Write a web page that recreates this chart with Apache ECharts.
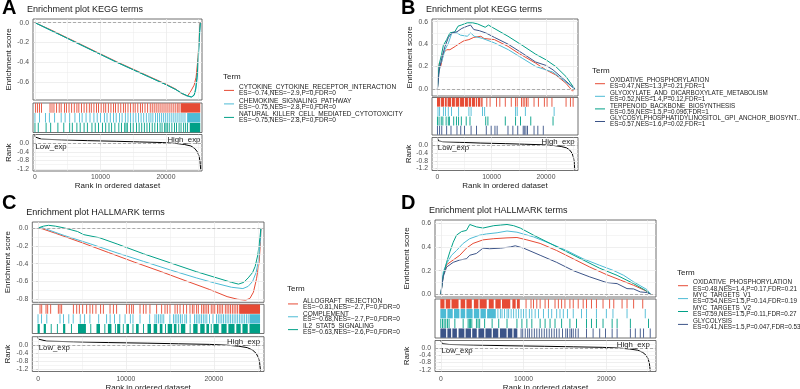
<!DOCTYPE html>
<html>
<head>
<meta charset="utf-8">
<script src="https://cdn.jsdelivr.net/npm/echarts@6/dist/echarts.min.js"></script>
<style>
  html, body { margin: 0; padding: 0; background: #fff; }
  #chart { width: 800px; height: 389px; }
</style>
</head>
<body>
<div id="chart"></div>
<script>
const chart = echarts.init(document.getElementById('chart'))
const FONT = '"Liberation Sans", Arial, sans-serif'

// npg palette
const red = '#E64B35'
const cyan = '#4DBBD5'
const teal = '#00A087'
const navy = '#3C5488'

// shared axis values
const xTicks = [0, 10000, 20000]
const xMinor = [5000, 15000, 25000]
const rankTicks = [0, -0.4, -0.8, -1.2]
const rankMinor = [0.2, -0.2, -0.6, -1.0]

// ranked list metric (same dataset in every panel)
const rankCurve = [[0, 0.4], [50, 0.3], [200, 0.24], [1000, 0.2], [4000, 0.17], [8000, 0.13], [12500, 0.1],
  [16000, 0.07], [19500, 0.04], [21500, 0.0], [22800, -0.05], [23800, -0.12], [24400, -0.24], [24800, -0.4],
  [25050, -0.6], [25200, -0.85], [25300, -1.25]]

// ---- A: KEGG (negative) ----
const termsA = ['CYTOKINE_CYTOKINE_RECEPTOR_INTERACTION', 'CHEMOKINE_SIGNALING_PATHWAY', 'NATURAL_KILLER_CELL_MEDIATED_CYTOTOXICITY']
const statsA = ['ES=−0.74,NES=−2.9,P=0,FDR=0', 'ES=−0.75,NES=−2.8,P=0,FDR=0', 'ES=−0.75,NES=−2.8,P=0,FDR=0']
const esA1 = [[0, 0], [2500, -0.075], [5000, -0.155], [7500, -0.235], [10000, -0.315], [12500, -0.395], [15000, -0.47],
  [17500, -0.545], [20000, -0.62], [21500, -0.67], [22300, -0.712], [23300, -0.74], [23800, -0.69], [24300, -0.63],
  [24600, -0.55], [24900, -0.35], [25100, -0.1], [25200, 0]]
const esA2 = [[0, 0], [2500, -0.08], [5000, -0.16], [7500, -0.24], [10000, -0.32], [12500, -0.4], [15000, -0.475],
  [17500, -0.55], [20000, -0.625], [21500, -0.675], [22500, -0.715], [23200, -0.74], [23800, -0.75], [24200, -0.74],
  [24500, -0.7], [24800, -0.55], [25000, -0.3], [25150, -0.1], [25250, 0]]
const esA3 = [[0, 0], [2500, -0.08], [5000, -0.16], [7500, -0.24], [10000, -0.32], [12500, -0.4], [15000, -0.475],
  [17500, -0.55], [20000, -0.625], [21500, -0.675], [22500, -0.715], [23200, -0.735], [23900, -0.75], [24300, -0.73],
  [24550, -0.66], [24800, -0.5], [25000, -0.25], [25150, -0.08], [25250, 0]]
const rugA1 = [100, 400, 700, 1000, 2300, 2600, 2900, 3300, 3700, 4000, 4500, 4800, 5200, 5600, 6000, 6400, 6700, 7100,
  7500, 7900, 8300, 8600, 9000, 9400, 9700, 10100, 10500, 10800, 11200, 11600, 12000, 12300, 12700, 13100, 13500, 13800,
  14200, 14600, 15000, 15300, 15700, 16100, 16400, 16800, 17200, 17600, 17900, 18200, 18500, 18800, 19100, 19400, 19700,
  20000, 20300, 20600, 20900, 21200, 21500, 21800, 22000]
const blockA1 = [[22300, 25300]]
const rugA2 = [0, 700, 1600, 2200, 3000, 4000, 4600, 5300, 6100, 6800, 7200, 7800, 8400, 9000, 9500, 10000, 10600, 11000,
  11500, 12000, 12400, 12900, 13300, 13800, 14200, 14600, 15000, 15400, 15800, 16200, 16600, 17000, 17400, 17700, 18000,
  18400, 18700, 19000, 19300, 19600, 19900, 20200, 20500, 20800, 21100, 21400, 21700, 22000, 22300, 22600, 22900]
const blockA2 = [[23300, 25300]]
const rugA3 = [0, 500, 1700, 2400, 3500, 4400, 5300, 5700, 6400, 6900, 7500, 8000, 8700, 9200, 9700, 10300, 10800, 11300,
  11700, 12200, 12800, 13200, 13700, 13900, 14100, 14600, 15000, 15500, 15900, 16300, 16700, 17100, 17500, 17900, 18300,
  18700, 19100, 19400, 19800, 20000, 20200, 20500, 20900, 21300, 21600, 22000, 22300, 22700, 23000, 23300]
const blockA3 = [[23700, 25300]]

// ---- B: KEGG (positive) ----
const termsB = ['OXIDATIVE_PHOSPHORYLATION', 'GLYOXYLATE_AND_DICARBOXYLATE_METABOLISM', 'TERPENOID_BACKBONE_BIOSYNTHESIS', 'GLYCOSYLPHOSPHATIDYLINOSITOL_GPI_ANCHOR_BIOSYNT...']
const statsB = ['ES=0.47,NES=1.3,P=0.21,FDR=1', 'ES=0.52,NES=1.4,P=0.12,FDR=1', 'ES=0.59,NES=1.5,P=0.096,FDR=1', 'ES=0.57,NES=1.6,P=0.02,FDR=1']
const esB1 = [[0, 0], [350, 0.23], [600, 0.2], [1100, 0.32], [1700, 0.35], [2300, 0.35], [3300, 0.38], [4200, 0.41],
  [4900, 0.43], [5800, 0.44], [6700, 0.46], [8000, 0.47], [8600, 0.45], [10500, 0.44], [13000, 0.38], [14900, 0.32],
  [18100, 0.23], [20000, 0.17], [21800, 0.125], [23700, 0.05], [24300, 0.015], [24900, -0.02], [25100, -0.03], [25300, 0]]
const esB2 = [[0, 0], [330, 0.21], [770, 0.24], [1400, 0.35], [2030, 0.41], [2660, 0.5], [3610, 0.5], [4240, 0.48],
  [5500, 0.47], [6130, 0.5], [6760, 0.47], [8340, 0.45], [10550, 0.41], [13070, 0.35], [15600, 0.275], [18120, 0.2],
  [18440, 0.185], [21280, 0.15], [23170, 0.08], [25300, 0]]
const esB3 = [[0, 0], [330, 0.22], [770, 0.31], [1100, 0.39], [1700, 0.44], [2300, 0.5], [3200, 0.51], [3800, 0.56],
  [4400, 0.57], [5500, 0.59], [6500, 0.59], [7400, 0.58], [8800, 0.55], [9400, 0.57], [10100, 0.55], [13000, 0.47],
  [15600, 0.39], [18100, 0.31], [20000, 0.26], [21800, 0.2], [23700, 0.11], [25300, 0]]
const esB4 = [[0, 0], [330, 0.16], [770, 0.27], [1400, 0.38], [2030, 0.46], [2660, 0.5], [3600, 0.51], [4500, 0.54],
  [5500, 0.56], [6100, 0.57], [6700, 0.53], [7700, 0.52], [8900, 0.5], [10500, 0.46], [13000, 0.4], [15600, 0.32],
  [18100, 0.24], [20000, 0.21], [21300, 0.17], [23200, 0.09], [25300, 0]]
const rugB1 = [9100, 9700, 10900, 11500, 12500, 13600, 14400, 14700, 15500, 15800, 16100, 16400, 16700, 17800, 18600,
  19700, 20200, 21100, 23700, 24500, 25000]
const blockB1 = [[0, 600], [750, 1300], [1450, 1800], [1950, 2600], [2750, 3300], [3450, 4100], [4250, 5000], [5150, 5700],
  [5850, 6300], [6450, 7000], [7150, 7400], [7550, 8000], [8150, 8400]]
const rugB2 = [100, 400, 1100, 1500, 2000, 2600, 3900, 5800, 6200, 8300, 8700, 14400, 14700, 16200, 21500]
const rugB3 = [0, 300, 700, 1000, 1600, 2000, 2200, 3000, 3500, 3900, 4400, 5300, 6000, 8900, 9300, 12500, 14400, 15300,
  17200, 21300]
const rugB4 = [0, 400, 800, 1700, 2500, 3600, 4300, 5000, 6200, 7200, 9000, 9900, 10600, 11000, 13000, 13900, 14800,
  15800, 16000, 16300, 16600, 17800, 18500, 19500]

// ---- C: HALLMARK (negative) ----
const termsC = ['ALLOGRAFT_REJECTION', 'COMPLEMENT', 'IL2_STAT5_SIGNALING']
const statsC = ['ES=−0.81,NES=−2.7,P=0,FDR=0', 'ES=−0.68,NES=−2.7,P=0,FDR=0', 'ES=−0.63,NES=−2.6,P=0,FDR=0']
const esC1 = [[0, 0], [500, -0.01], [2000, -0.06], [5000, -0.165], [8000, -0.275], [11000, -0.385], [14000, -0.49],
  [17000, -0.6], [19500, -0.69], [21500, -0.77], [22700, -0.8], [23600, -0.81], [24100, -0.79], [24500, -0.72],
  [24850, -0.57], [25150, -0.38], [25300, -0.15], [25350, 0]]
const esC2 = [[0, 0], [400, 0.005], [1000, -0.015], [3000, -0.085], [6000, -0.18], [9000, -0.28], [12000, -0.375],
  [15000, -0.47], [18000, -0.56], [20000, -0.615], [22000, -0.665], [23300, -0.68], [23900, -0.655], [24400, -0.6],
  [24800, -0.5], [25100, -0.35], [25300, -0.12], [25350, 0]]
const esC3 = [[0, 0], [600, 0.02], [1200, 0.03], [2000, 0.02], [3000, 0.0], [4500, -0.04], [5200, -0.075], [7000, -0.11],
  [9000, -0.18], [12000, -0.29], [15000, -0.39], [18000, -0.49], [20000, -0.55], [22000, -0.61], [22800, -0.63],
  [23400, -0.61], [23900, -0.56], [24400, -0.5], [24700, -0.43], [25000, -0.3], [25250, -0.1], [25350, 0]]
const rugC1 = [230, 420, 910, 1100, 1440, 2310, 2500, 2690, 4020, 4400, 4700, 5080, 5530, 5910, 6220, 6590, 7120, 7430,
  8190, 8570, 8940, 10080, 10380, 10650, 10840, 11600, 11980, 12280, 12730, 13490, 14060, 14440, 14700, 15010, 15580,
  15840, 16150, 16530, 16900, 17280, 17550, 17740, 18040, 18230, 18610, 18800, 18990, 19200, 19400, 19700, 19900, 20100,
  20400, 20600, 20800, 21000, 21300, 21500, 21700, 21900, 22100, 22300, 22500, 22700, 22900]
const blockC1 = [[23000, 25300]]
const rugC2 = [0, 400, 1000, 2500, 2900, 3500, 4000, 4800, 5300, 5900, 6900, 7800, 8200, 8700, 9300, 9900, 10500, 10800,
  11600, 12700, 13300, 13500, 13700, 13900, 14100, 14300, 15000, 15400, 15600, 15800, 16000, 16200, 16400, 16700, 16900,
  17300, 17800, 18000, 18200, 18400, 18600, 18800, 19000, 19200, 19500, 19900, 20300, 20500, 20700, 20900, 21100, 21300,
  21500, 21700, 21900, 22100, 22300, 22500, 22700, 22900, 23100, 23300, 23500, 23700, 23900]
const blockC2 = [[24100, 25300]]
const rugC3 = [1500, 2200, 3800, 6000, 7600, 8800, 9700, 10800, 12000, 14500, 16000, 17300, 19700]
const blockC3 = [[0, 250], [700, 950], [2900, 3150], [4600, 5500], [6700, 7100], [8000, 8400], [9050, 9400], [10100, 10400],
  [11200, 11500], [12500, 12900], [13200, 13600], [13900, 14200], [14800, 15300], [15500, 15800], [16300, 16800],
  [17700, 18200], [18500, 19000], [19200, 19500], [20000, 20600], [20900, 21500], [21700, 22400], [22600, 23100],
  [23300, 23900], [24100, 25300]]

// ---- D: HALLMARK (positive) ----
const termsD = ['OXIDATIVE_PHOSPHORYLATION', 'MYC_TARGETS_V1', 'MYC_TARGETS_V2', 'GLYCOLYSIS']
const statsD = ['ES=0.48,NES=1.4,P=0.17,FDR=0.21', 'ES=0.54,NES=1.5,P=0.14,FDR=0.19', 'ES=0.59,NES=1.5,P=0.11,FDR=0.27', 'ES=0.41,NES=1.5,P=0.047,FDR=0.53']
const esD1 = [[0, 0], [300, 0.16], [700, 0.25], [1500, 0.29], [2300, 0.33], [3100, 0.39], [3900, 0.43], [5100, 0.46],
  [6400, 0.47], [8000, 0.477], [9200, 0.48], [10400, 0.46], [12000, 0.43], [14000, 0.37], [16000, 0.3], [18000, 0.23],
  [20000, 0.167], [21700, 0.12], [23300, 0.076], [24900, 0.025], [25350, 0]]
const esD2 = [[0, 0], [300, 0.19], [700, 0.26], [1300, 0.33], [1900, 0.37], [2700, 0.43], [3500, 0.47], [4700, 0.5],
  [5500, 0.51], [6800, 0.52], [8000, 0.535], [9200, 0.525], [11200, 0.485], [13200, 0.43], [15200, 0.37], [17200, 0.3],
  [19200, 0.245], [20900, 0.2], [22100, 0.16], [23300, 0.105], [24900, 0.04], [25350, 0]]
const esD3 = [[0, 0], [300, 0.16], [700, 0.27], [1100, 0.36], [1500, 0.44], [1900, 0.5], [2500, 0.53], [3100, 0.54],
  [3500, 0.59], [4300, 0.57], [5100, 0.56], [6400, 0.58], [7200, 0.585], [8000, 0.59], [8800, 0.58], [9600, 0.56],
  [11200, 0.5], [13200, 0.43], [15200, 0.36], [17200, 0.29], [19200, 0.22], [21300, 0.16], [23300, 0.09], [24700, 0.034],
  [25350, 0]]
const esD4 = [[0, 0], [300, 0.15], [700, 0.23], [1500, 0.27], [2300, 0.29], [3100, 0.3], [3500, 0.33], [4300, 0.345],
  [5100, 0.39], [5900, 0.385], [7200, 0.39], [8400, 0.4], [9000, 0.41], [10000, 0.39], [12000, 0.33], [14000, 0.27],
  [16000, 0.2], [18000, 0.147], [20000, 0.1], [21300, 0.09], [22500, 0.048], [23300, 0.045], [24100, 0.02],
  [24900, 0.015], [25350, 0]]
const rugD1 = [10300, 10900, 11200, 11600, 12000, 12600, 13000, 13800, 14200, 14600, 15000, 15600, 16000, 16600, 17200,
  17600, 18200, 18800, 19600, 20400, 20900, 21900, 22500, 23300, 24400]
const blockD1 = [[0, 500], [650, 1200], [1350, 2200], [2450, 3000], [3150, 3800], [4050, 4600], [4750, 5600], [5850, 6450],
  [6650, 7300], [7450, 8450], [8700, 9100], [9250, 9600]]
const rugD2 = [6900, 7200, 7400, 7700, 8000, 8200, 8500, 8800, 9100, 9400, 9700, 10000, 10300, 10700, 11000, 11400, 11800,
  12400, 13000, 13400, 14000, 14400, 14800, 15300, 16000, 17000, 17600, 18800, 20000, 20800, 22500, 24700]
const blockD2 = [[0, 700], [850, 1500], [1650, 2300], [2450, 3000], [3150, 3900], [4050, 4700], [4850, 5500], [5650, 6700]]
const rugD3 = [0, 200, 400, 600, 800, 1000, 1700, 2700, 3300, 3450, 3600, 3750, 4300, 4500, 4700, 5300, 6200, 7000, 8000,
  9200, 9800, 10400, 11000, 12000, 12600, 13200, 13800, 14600, 15600, 16400, 17600, 18200, 18800, 19600, 20700, 21300,
  22900, 25100]
const rugD4 = [9700, 9900, 10200, 10500, 10700, 11000, 11300, 11600, 11900, 12200, 12500, 12800, 13100, 13400, 13700,
  14000, 14300, 14700, 15100, 15300, 15600, 15800, 16000, 16300, 16600, 17600, 18400, 19200, 19900, 20700, 21300, 22900,
  23500, 24100, 24500, 25300]
const blockD4 = [[0, 700], [850, 1300], [1450, 2000], [2200, 2900], [3050, 3700], [3850, 4400], [4600, 5300], [5450, 6200],
  [6350, 7000], [7200, 8000], [8150, 8700], [8850, 9300]]

// layout of the four panels
const panels = [
  { letter: 'A', lx: 2, ly: -2, title: 'Enrichment plot KEGG terms', x0: 33, x1: 202, es: [19, 100], rug: [103, 132.5], rank: [134.5, 171],
    xr: [-300, 25500], esr: [-0.78, 0.037], esTicks: [0, -0.2, -0.4, -0.6], esMinor: [-0.1, -0.3, -0.5, -0.7],
    nameGap: 20, labMargin: 3, xNameGap: 9, legend: { left: 224, top: 83.8, lh: 6.2, gap: 0.3, fs: 6.5 }, term: [223, 73],
    colors: [red, cyan, teal], terms: termsA, stats: statsA, curves: [esA1, esA2, esA3],
    rugs: [[rugA1, blockA1], [rugA2, blockA2], [rugA3, blockA3]] },
  { letter: 'B', lx: 401, ly: -2, title: 'Enrichment plot KEGG terms', x0: 432, x1: 578, es: [19, 96], rug: [97.5, 135], rank: [137.5, 170.5],
    xr: [-1000, 25900], esr: [-0.063, 0.624], esTicks: [0, 0.2, 0.4, 0.6], esMinor: [0.1, 0.3, 0.5],
    nameGap: 18.5, labMargin: 3, xNameGap: 9, legend: { left: 595, top: 77.6, lh: 6.1, gap: 0.4, fs: 6.3 }, term: [592, 66.7],
    colors: [red, cyan, teal, navy], terms: termsB, stats: statsB, curves: [esB1, esB2, esB3, esB4],
    rugs: [[rugB1, blockB1], [rugB2, []], [rugB3, []], [rugB4, []]] },
  { letter: 'C', lx: 2, ly: 193, title: 'Enrichment plot HALLMARK terms', x0: 32.3, x1: 264, es: [222, 302.3], rug: [304.3, 333.5], rank: [336.7, 371.5],
    xr: [-650, 25700], esr: [-0.834, 0.067], esTicks: [0, -0.2, -0.4, -0.6, -0.8], esMinor: [-0.1, -0.3, -0.5, -0.7],
    nameGap: 21, labMargin: 4, xNameGap: 10.5, legend: { left: 288, top: 297.5, lh: 5.85, gap: 0, fs: 6.5 }, term: [287, 285],
    colors: [red, cyan, teal], terms: termsC, stats: statsC, curves: [esC1, esC2, esC3],
    rugs: [[rugC1, blockC1], [rugC2, blockC2], [rugC3, blockC3]] },
  { letter: 'D', lx: 401, ly: 193.5, title: 'Enrichment plot HALLMARK terms', x0: 435, x1: 656, es: [220, 297], rug: [299, 338], rank: [340.5, 371.5],
    xr: [-700, 26000], esr: [-0.023, 0.628], esTicks: [0, 0.2, 0.4, 0.6], esMinor: [0.1, 0.3, 0.5],
    nameGap: 24, labMargin: 4, xNameGap: 10.5, legend: { left: 678, top: 279.5, lh: 6.2, gap: 0.5, fs: 6.3 }, term: [677, 268.7],
    colors: [red, cyan, teal, navy], terms: termsD, stats: statsD, curves: [esD1, esD2, esD3, esD4],
    rugs: [[rugD1, blockD1], [rugD2, blockD2], [rugD3, []], [rugD4, blockD4]] },
]

const labelStyle = { fontSize: 6.8, color: '#4D4D4D', fontFamily: FONT }
const nameStyle = { fontSize: 8, color: '#1A1A1A', fontFamily: FONT }
const gridLine = (w) => ({ color: '#EBEBEB', width: w, type: 'solid' })

const option = {
  animation: false,
  textStyle: { fontFamily: FONT },
  title: [],
  legend: [],
  grid: [],
  xAxis: [],
  yAxis: [],
  series: [],
}

function gridSeries(idx, hMajor, hMinor) {
  const data = []
  xTicks.forEach((v) => data.push({ xAxis: v, lineStyle: gridLine(0.8) }))
  xMinor.forEach((v) => data.push({ xAxis: v, lineStyle: gridLine(0.5) }))
  hMajor.forEach((v) => data.push({ yAxis: v, lineStyle: gridLine(0.8) }))
  hMinor.forEach((v) => data.push({ yAxis: v, lineStyle: gridLine(0.5) }))
  data.push({ yAxis: 0, lineStyle: { color: '#9A9A9A', width: 0.8, type: [3, 2] } })
  return {
    type: 'line', name: 'grid' + idx, data: [], xAxisIndex: idx, yAxisIndex: idx, z: 1,
    markLine: { silent: true, symbol: ['none', 'none'], label: { show: false }, animation: false, data },
  }
}

function rugRender(colors) {
  return (params, api) => {
    const a = api.coord([api.value(0), api.value(2)])
    const b = api.coord([api.value(1), api.value(2) + 1])
    return {
      type: 'rect',
      shape: { x: a[0] - 0.45, y: a[1] + 0.2, width: Math.max(b[0] - a[0], 0.9), height: b[1] - a[1] - 0.4 },
      style: { fill: colors[api.value(2)] },
    }
  }
}

panels.forEach((p, i) => {
  const g = i * 3
  ;[p.es, p.rug, p.rank].forEach(([t, b]) => {
    option.grid.push({
      left: p.x0, width: p.x1 - p.x0, top: t, height: b - t, show: true,
      borderColor: '#4D4D4D', borderWidth: 0.8, containLabel: false, outerBoundsMode: 'none',
    })
  })

  // ES panel axes
  option.xAxis.push({ gridIndex: g, type: 'value', min: p.xr[0], max: p.xr[1], show: false })
  option.yAxis.push({
    gridIndex: g, type: 'value', min: p.esr[0], max: p.esr[1],
    axisLine: { show: false }, splitLine: { show: false },
    axisTick: { show: true, length: 2, customValues: p.esTicks, lineStyle: { color: '#333', width: 0.6 } },
    axisLabel: { ...labelStyle, margin: 4, customValues: p.esTicks, formatter: (v) => v.toFixed(1) },
    name: 'Enrichment score', nameLocation: 'middle', nameRotate: 90, nameGap: p.nameGap, nameTextStyle: nameStyle,
  })
  // rug axes
  option.xAxis.push({ gridIndex: g + 1, type: 'value', min: p.xr[0], max: p.xr[1], show: false })
  option.yAxis.push({ gridIndex: g + 1, type: 'value', min: 0, max: p.terms.length, inverse: true, show: false })
  // rank axes
  option.xAxis.push({
    gridIndex: g + 2, type: 'value', min: p.xr[0], max: p.xr[1],
    axisLine: { show: false }, splitLine: { show: false },
    axisTick: { show: true, length: 2, customValues: xTicks, lineStyle: { color: '#333', width: 0.6 } },
    axisLabel: { ...labelStyle, margin: p.labMargin, customValues: xTicks, formatter: (v) => String(v) },
    name: 'Rank in ordered dataset', nameLocation: 'middle', nameGap: p.xNameGap, nameTextStyle: nameStyle,
  })
  option.yAxis.push({
    gridIndex: g + 2, type: 'value', min: -1.3, max: 0.42,
    axisLine: { show: false }, splitLine: { show: false },
    axisTick: { show: true, length: 2, customValues: rankTicks, lineStyle: { color: '#333', width: 0.6 } },
    axisLabel: { ...labelStyle, margin: 4, customValues: rankTicks, formatter: (v) => v.toFixed(1) },
    name: 'Rank', nameLocation: 'middle', nameRotate: 90, nameGap: p.nameGap, nameTextStyle: nameStyle,
  })

  option.series.push(gridSeries(g, p.esTicks, p.esMinor))
  option.series.push(gridSeries(g + 2, rankTicks, rankMinor))

  p.curves.forEach((c, k) => {
    option.series.push({
      type: 'line', name: p.terms[k], data: c, xAxisIndex: g, yAxisIndex: g, z: 3,
      showSymbol: false, color: p.colors[k], lineStyle: { width: 1, color: p.colors[k] },
    })
  })

  const rugData = []
  p.rugs.forEach(([ticks, blocks], r) => {
    ticks.forEach((x) => rugData.push([x, x, r]))
    blocks.forEach((bl) => rugData.push([bl[0], bl[1], r]))
  })
  option.series.push({
    type: 'custom', name: 'rug' + p.letter, xAxisIndex: g + 1, yAxisIndex: g + 1, z: 3,
    encode: { x: [0, 1], y: 2 }, data: rugData, renderItem: rugRender(p.colors),
  })

  option.series.push({
    type: 'line', name: 'rank' + p.letter, data: rankCurve, xAxisIndex: g + 2, yAxisIndex: g + 2, z: 3,
    showSymbol: false, color: '#000', lineStyle: { width: 1, color: '#000' },
    markPoint: {
      symbol: 'circle', symbolSize: 0, silent: true, animation: false,
      label: { show: true, position: 'inside', fontSize: 7.8, color: '#1A1A1A', fontFamily: FONT, verticalAlign: 'middle' },
      data: [
        { coord: [80, -0.14], label: { formatter: 'Low_exp', align: 'left' } },
        { coord: [25250, 0.17], label: { formatter: 'High_exp', align: 'right' } },
      ],
    },
  })

  // titles
  option.title.push({ text: p.letter, left: p.lx, top: p.ly,
    padding: 0, textStyle: { fontSize: 20, fontWeight: 'bold', color: '#000', fontFamily: FONT } })
  option.title.push({ text: p.title, left: p.x0 - 6, top: p.es[0] - 13.5,
    padding: 0, textStyle: { fontSize: 9, fontWeight: 'normal', color: '#1A1A1A', fontFamily: FONT } })
  option.title.push({ text: 'Term', left: p.term[0], top: p.term[1],
    padding: 0, textStyle: { fontSize: 8, fontWeight: 'normal', color: '#1A1A1A', fontFamily: FONT } })

  const statOf = {}
  p.terms.forEach((t, k) => { statOf[t] = p.stats[k] })
  option.legend.push({
    data: p.terms, orient: 'vertical', left: p.legend.left, top: p.legend.top, padding: 0,
    itemWidth: 10, itemHeight: 1, itemGap: p.legend.gap, icon: 'rect', selectedMode: false,
    textStyle: { fontSize: p.legend.fs, lineHeight: p.legend.lh, color: '#1A1A1A', fontFamily: FONT },
    formatter: (n) => n + '\n' + statOf[n],
  })
})

chart.setOption(option)
</script>
</body>
</html>
